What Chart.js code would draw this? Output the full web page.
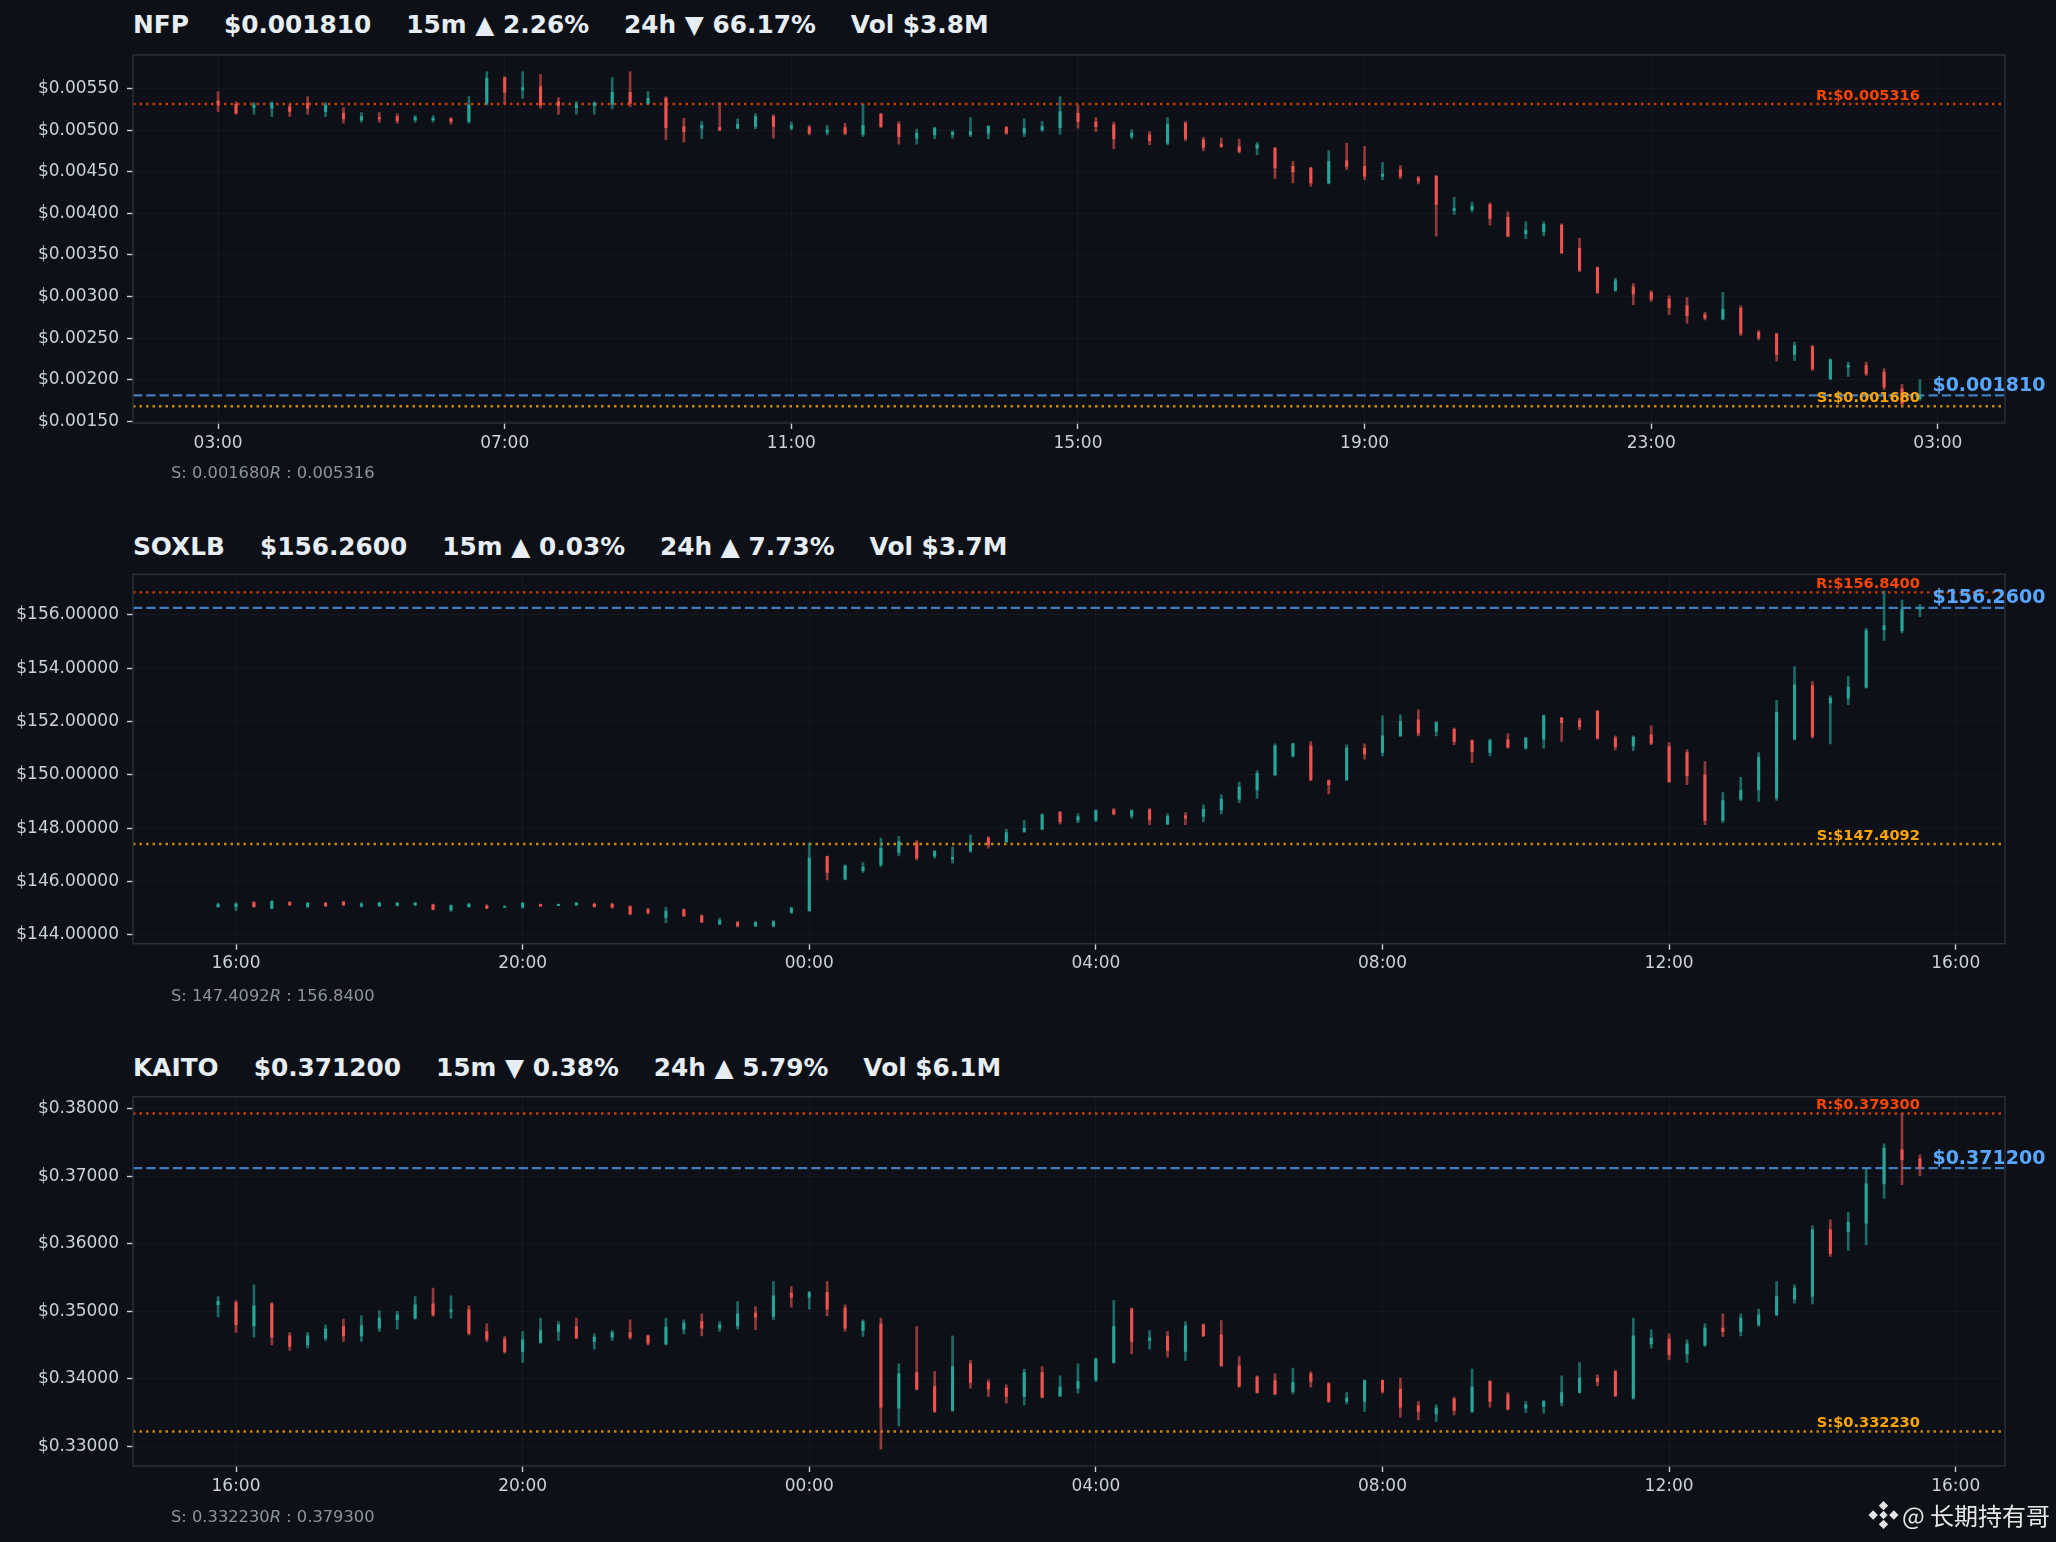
<!DOCTYPE html>
<html>
<head>
<meta charset="utf-8">
<script src="https://cdn.jsdelivr.net/npm/chart.js@4.4.1/dist/chart.umd.min.js"></script>
<style>
html,body{margin:0;padding:0;background:#0d1117;width:2056px;height:1542px;overflow:hidden;}
#wrap{position:relative;width:2056px;height:1542px;background:#0d1117;}
canvas{position:absolute;left:0;}
.hdr{position:absolute;left:133px;color:#e6edf3;font:bold 24.8px "DejaVu Sans";line-height:25px;white-space:pre;display:flex;}
.hdr span{margin-right:35px;}
.foot{position:absolute;left:171px;color:#8b949e;font:16.3px "DejaVu Sans";line-height:16px;white-space:pre;}
.foot i{font-style:oblique;}
.wm{position:absolute;left:1868px;top:1500px;height:30px;display:flex;align-items:center;color:#e6e6e6;}
.wm .t{font:24px "Noto Sans CJK SC";line-height:30px;margin-left:3px;white-space:pre;}
</style>
</head>
<body>
<div id="wrap">
  <div class="hdr" id="hdr0" style="top:12px"></div>
  <canvas id="c0" width="2056" height="520" style="top:0px"></canvas>
  <div class="foot" id="foot0" style="top:465px"></div>

  <div class="hdr" id="hdr1" style="top:534px"></div>
  <canvas id="c1" width="2056" height="522" style="top:520px"></canvas>
  <div class="foot" id="foot1" style="top:988px"></div>

  <div class="hdr" id="hdr2" style="top:1055px"></div>
  <canvas id="c2" width="2056" height="500" style="top:1042px"></canvas>
  <div class="foot" id="foot2" style="top:1509px"></div>

  <div class="wm">
    <svg width="31" height="30" viewBox="0 0 30 28">
      <g fill="#e6e6e6">
        <polygon points="15,0.5 19.5,5 15,9.5 10.5,5"/>
        <polygon points="15,18.5 19.5,23 15,27.5 10.5,23"/>
        <polygon points="5,9.5 9.5,14 5,18.5 0.5,14"/>
        <polygon points="25,9.5 29.5,14 25,18.5 20.5,14"/>
        <polygon points="15,10 19,14 15,18 11,14"/>
      </g>
    </svg>
    <span class="t">@ 长期持有哥</span>
  </div>
</div>
<script>
// ---------------- DATA ----------------
const symbols = ['NFP', 'SOXLB', 'KAITO'];
const lastPrices = [0.001810, 156.2600, 0.371200];
const supports = [0.001680, 147.4092, 0.332230];
const resistances = [0.005316, 156.8400, 0.379300];
const change15m = [2.26, 0.03, -0.38];
const change24h = [-66.17, 7.73, 5.79];
const volumes = ['$3.8M', '$3.7M', '$6.1M'];
const priceDecimals = [6, 4, 6];
const firstCandleTime = ['03:00', '15:45', '15:45'];

const nfpTimeTicks = ['03:00','07:00','11:00','15:00','19:00','23:00','03:00'];
const soxlbTimeTicks = ['16:00','20:00','00:00','04:00','08:00','12:00','16:00'];
const kaitoTimeTicks = ['16:00','20:00','00:00','04:00','08:00','12:00','16:00'];

const nfpPriceTicks = [0.0015,0.0020,0.0025,0.0030,0.0035,0.0040,0.0045,0.0050,0.0055];
const soxlbPriceTicks = [144,146,148,150,152,154,156];
const kaitoPriceTicks = [0.33,0.34,0.35,0.36,0.37,0.38];

const nfpOpen = [0.005352,0.005312,0.005272,0.005264,0.005284,0.005324,0.005225,0.005205,0.005125,0.005153,
0.005165,0.005125,0.005125,0.005137,0.005105,0.005324,0.005632,0.005484,0.005524,0.005344,
0.005272,0.005296,0.005312,0.005456,0.005324,0.005384,0.005045,0.005025,0.005033,0.005025,
0.005045,0.005165,0.005025,0.005033,0.004977,0.005033,0.004953,0.005193,0.005073,0.004905,
0.004945,0.004945,0.004945,0.004965,0.005033,0.004965,0.005005,0.005033,0.005205,0.005097,
0.005065,0.004925,0.004945,0.004845,0.005085,0.004885,0.004833,0.004805,0.004785,0.004785,
0.004566,0.004546,0.004366,0.004634,0.004566,0.004446,0.004526,0.004426,0.004446,0.004035,
0.004047,0.004107,0.003955,0.003755,0.003779,0.003859,0.003580,0.003348,0.003077,0.003117,
0.003049,0.002969,0.002889,0.002781,0.002730,0.002861,0.002570,0.002550,0.002302,0.002398,
0.002011,0.002151,0.002171,0.002091,0.001891,0.001771];
const nfpHigh = [0.005464,0.005344,0.005332,0.005344,0.005312,0.005404,0.005332,0.005272,0.005213,0.005213,
0.005197,0.005177,0.005177,0.005153,0.005404,0.005704,0.005644,0.005704,0.005672,0.005392,
0.005344,0.005344,0.005632,0.005704,0.005464,0.005404,0.005145,0.005105,0.005332,0.005137,
0.005201,0.005185,0.005097,0.005057,0.005057,0.005085,0.005312,0.005205,0.005105,0.005013,
0.005037,0.004993,0.005153,0.005057,0.005045,0.005137,0.005105,0.005404,0.005304,0.005153,
0.005097,0.005005,0.004985,0.005153,0.005105,0.004913,0.004905,0.004893,0.004853,0.004793,
0.004626,0.004554,0.004753,0.004845,0.004805,0.004614,0.004574,0.004446,0.004458,0.004195,
0.004135,0.004127,0.004019,0.003899,0.003899,0.003875,0.003700,0.003356,0.003220,0.003157,
0.003069,0.003009,0.002989,0.002809,0.003049,0.002889,0.002590,0.002558,0.002450,0.002410,
0.002250,0.002211,0.002211,0.002131,0.001943,0.001999];
const nfpLow = [0.005225,0.005193,0.005193,0.005165,0.005165,0.005193,0.005165,0.005085,0.005097,0.005097,
0.005085,0.005097,0.005097,0.005073,0.005085,0.005304,0.005324,0.005384,0.005264,0.005193,
0.005193,0.005193,0.005256,0.005284,0.005312,0.004885,0.004857,0.004897,0.004993,0.005017,
0.005017,0.004905,0.005005,0.004945,0.004945,0.004945,0.004925,0.005033,0.004833,0.004833,
0.004897,0.004905,0.004925,0.004897,0.004953,0.004925,0.004985,0.004953,0.005025,0.004985,
0.004777,0.004897,0.004825,0.004825,0.004873,0.004753,0.004793,0.004726,0.004706,0.004418,
0.004366,0.004326,0.004354,0.004526,0.004406,0.004406,0.004418,0.004354,0.003728,0.003987,
0.004019,0.003859,0.003716,0.003696,0.003728,0.003516,0.003300,0.003037,0.003061,0.002901,
0.002941,0.002781,0.002678,0.002718,0.002718,0.002530,0.002478,0.002223,0.002230,0.002111,
0.001999,0.002039,0.002051,0.001879,0.001700,0.001751];
const nfpClose = [0.005304,0.005205,0.005304,0.005324,0.005225,0.005264,0.005304,0.005137,0.005165,0.005137,
0.005113,0.005153,0.005145,0.005105,0.005304,0.005624,0.005456,0.005512,0.005304,0.005296,
0.005304,0.005324,0.005456,0.005324,0.005384,0.005033,0.004985,0.005057,0.005005,0.005073,
0.005165,0.005045,0.005057,0.004965,0.005005,0.004965,0.005057,0.005045,0.004925,0.004965,
0.005025,0.004977,0.004985,0.005045,0.004965,0.005025,0.005045,0.005225,0.005105,0.005045,
0.004897,0.004965,0.004873,0.005073,0.004897,0.004793,0.004805,0.004745,0.004825,0.004546,
0.004498,0.004366,0.004626,0.004566,0.004446,0.004474,0.004446,0.004386,0.004107,0.004059,
0.004087,0.003939,0.003728,0.003795,0.003867,0.003528,0.003316,0.003049,0.003189,0.003029,
0.002969,0.002869,0.002769,0.002742,0.002849,0.002558,0.002502,0.002302,0.002410,0.002131,
0.002239,0.002171,0.002071,0.001911,0.001712,0.001810];

const soxlbOpen = [145.06,145.06,145.21,145.00,145.21,145.06,145.19,145.23,145.09,145.10,
145.11,145.13,145.13,144.94,145.06,145.09,145.04,145.04,145.14,145.11,
145.13,145.15,145.15,145.06,144.94,144.66,144.94,144.71,144.41,144.46,
144.34,144.34,144.84,144.91,146.94,146.09,146.41,146.63,147.09,147.46,
146.96,146.84,147.16,147.63,147.50,147.88,147.96,148.59,148.29,148.31,
148.69,148.46,148.69,148.16,148.46,148.44,148.69,149.09,149.44,150.00,
150.71,151.09,149.79,149.81,151.00,150.84,151.46,152.06,151.63,151.71,
151.29,150.84,151.31,151.00,151.34,152.13,152.04,152.38,151.38,151.09,
151.50,151.06,150.84,150.00,148.29,149.09,149.44,149.13,151.34,153.34,
152.69,152.88,153.29,155.44,155.40,156.21];
const soxlbHigh = [145.19,145.21,145.25,145.29,145.25,145.21,145.21,145.25,145.21,145.23,
145.21,145.21,145.16,145.13,145.19,145.13,145.07,145.21,145.16,145.16,
145.21,145.19,145.19,145.09,145.00,145.03,144.98,144.75,144.63,144.50,
144.50,144.54,145.04,147.44,146.96,146.63,146.71,147.63,147.69,147.54,
147.16,147.29,147.75,147.69,147.96,148.29,148.54,148.63,148.54,148.69,
148.74,148.69,148.74,148.54,148.59,148.88,149.25,149.73,150.15,151.16,
151.19,151.25,149.81,151.13,151.16,152.21,152.25,152.44,152.00,151.75,
151.31,151.34,151.54,151.41,152.25,152.16,152.13,152.41,151.46,151.46,
151.84,151.21,150.94,150.50,149.34,149.91,150.84,152.79,154.06,153.50,
152.96,153.69,155.49,156.89,156.55,156.38];
const soxlbLow = [145.04,144.91,145.04,144.97,145.10,145.03,145.06,145.09,145.04,145.06,
145.09,145.09,144.94,144.88,145.04,144.98,145.03,145.00,145.06,145.10,
145.09,145.04,145.00,144.75,144.79,144.46,144.69,144.46,144.38,144.30,
144.31,144.30,144.81,144.88,146.06,146.06,146.34,146.56,146.96,146.81,
146.88,146.69,147.09,147.25,147.46,147.84,147.94,148.16,148.21,148.25,
148.50,148.38,148.13,148.13,148.13,148.25,148.54,148.96,149.13,149.96,
150.66,149.79,149.29,149.79,150.59,150.71,151.44,151.46,151.46,151.13,
150.46,150.71,151.00,150.96,151.00,151.25,151.69,151.34,150.94,150.91,
151.13,149.71,149.63,148.13,148.21,149.04,149.00,149.04,151.31,151.38,
151.16,152.63,153.25,155.04,155.32,155.93];
const soxlbClose = [145.14,145.16,145.06,145.25,145.13,145.19,145.10,145.13,145.16,145.19,
145.19,145.19,144.96,145.09,145.15,145.00,145.06,145.19,145.09,145.14,
145.19,145.06,145.04,144.79,144.84,144.88,144.71,144.49,144.54,144.34,
144.46,144.49,145.00,146.88,146.34,146.59,146.54,147.25,147.50,146.88,
147.13,146.91,147.44,147.38,147.84,148.00,148.50,148.25,148.44,148.66,
148.54,148.66,148.31,148.44,148.38,148.71,149.09,149.54,150.06,151.09,
151.16,149.81,149.63,151.00,150.79,151.46,152.00,151.56,151.96,151.25,
150.88,151.29,151.04,151.38,152.21,151.96,151.81,151.38,151.06,151.41,
151.19,149.75,149.96,148.29,149.04,149.41,150.66,152.34,153.38,151.44,
152.88,153.29,155.41,155.59,156.20,156.26];

const kaitoOpen = [0.3510,0.35132,0.34787,0.35112,0.34639,0.34505,0.34604,0.34777,0.34639,0.34752,
0.34876,0.34900,0.35113,0.34999,0.35024,0.34703,0.34589,0.34407,0.34540,0.34703,
0.34777,0.34555,0.34619,0.34688,0.34639,0.34520,0.34737,0.34850,0.34752,0.34787,
0.34974,0.34925,0.35271,0.35211,0.35280,0.35048,0.34718,0.34816,0.33568,0.34096,
0.33888,0.33533,0.34224,0.33948,0.33864,0.33740,0.34096,0.33750,0.33864,0.33987,
0.34244,0.35034,0.34570,0.34629,0.34407,0.34801,0.34653,0.34195,0.34027,0.33977,
0.33814,0.34076,0.33928,0.33666,0.33666,0.33977,0.33849,0.33602,0.33484,0.33701,
0.33518,0.33963,0.33765,0.33568,0.33592,0.33651,0.33800,0.34012,0.34111,0.33716,
0.34520,0.34589,0.34372,0.34505,0.34752,0.34703,0.34802,0.34950,0.35182,0.35221,
0.36208,0.36184,0.36307,0.36889,0.37393,0.37262];
const kaitoHigh = [0.3522,0.35162,0.35394,0.35132,0.34688,0.34688,0.34802,0.34886,0.34935,0.35014,
0.35000,0.35221,0.35345,0.35231,0.35083,0.34816,0.34629,0.34703,0.34900,0.34850,
0.34900,0.34669,0.34718,0.34876,0.34653,0.34900,0.34876,0.34964,0.34850,0.35147,
0.35073,0.35443,0.35369,0.35295,0.35443,0.35098,0.34876,0.34900,0.34224,0.34777,
0.34111,0.34639,0.34274,0.33987,0.33913,0.34145,0.34185,0.34047,0.34224,0.34308,
0.35162,0.35048,0.34718,0.34703,0.34851,0.34816,0.34866,0.34333,0.34047,0.34076,
0.34160,0.34111,0.33948,0.33800,0.33987,0.33987,0.34012,0.33666,0.33617,0.33730,
0.34145,0.33977,0.33800,0.33666,0.33681,0.34047,0.34244,0.34061,0.34126,0.34900,
0.34728,0.34668,0.34579,0.34816,0.34964,0.34964,0.35034,0.35443,0.35394,0.36267,
0.36356,0.36465,0.37121,0.37482,0.37930,0.37319];
const kaitoLow = [0.3492,0.34688,0.34619,0.34505,0.34421,0.34456,0.34570,0.34555,0.34555,0.34703,
0.34737,0.34886,0.34925,0.34900,0.34653,0.34555,0.34382,0.34244,0.34530,0.34570,
0.34604,0.34441,0.34570,0.34589,0.34505,0.34505,0.34668,0.34639,0.34703,0.34737,
0.34728,0.34876,0.35063,0.35034,0.34935,0.34703,0.34629,0.32960,0.33306,0.33839,
0.33503,0.33518,0.33864,0.33740,0.33642,0.33617,0.33720,0.33740,0.33790,0.33963,
0.34234,0.34372,0.34441,0.34323,0.34274,0.34629,0.34185,0.33879,0.33790,0.33765,
0.33780,0.33879,0.33651,0.33632,0.33518,0.33790,0.33434,0.33395,0.33370,0.33469,
0.33503,0.33582,0.33543,0.33503,0.33494,0.33602,0.33790,0.33898,0.33740,0.33701,
0.34456,0.34283,0.34244,0.34481,0.34629,0.34639,0.34777,0.34935,0.35122,0.35112,
0.35813,0.35902,0.35985,0.36677,0.36875,0.37008];
const kaitoClose = [0.3515,0.34802,0.35083,0.34619,0.34481,0.34639,0.34737,0.34639,0.34787,0.34900,
0.34950,0.35098,0.34950,0.35024,0.34678,0.34589,0.34407,0.34580,0.34718,0.34802,
0.34604,0.34619,0.34688,0.34619,0.34530,0.34767,0.34826,0.34752,0.34802,0.34964,
0.34915,0.35231,0.35211,0.35280,0.35034,0.34752,0.34850,0.33582,0.34076,0.33849,
0.33518,0.34185,0.33948,0.33849,0.33740,0.34096,0.33730,0.33879,0.33963,0.34293,
0.34777,0.34555,0.34604,0.34421,0.34787,0.34639,0.34195,0.33888,0.33800,0.33780,
0.33948,0.33963,0.33666,0.33716,0.33977,0.33814,0.33582,0.33518,0.33568,0.33533,
0.33879,0.33666,0.33553,0.33617,0.33666,0.33800,0.34012,0.33963,0.33750,0.34639,
0.34604,0.34357,0.34520,0.34752,0.34703,0.34900,0.34950,0.35221,0.35345,0.36208,
0.35853,0.36317,0.36889,0.37418,0.37245,0.37120];

// ---------------- LAYOUT (pixels, styles) ----------------
const layout = [
  {canvas:'c0', padTop:55,   xAxisH:97},
  {canvas:'c1', padTop:54.3, xAxisH:98.3},
  {canvas:'c2', padTop:54.7, xAxisH:76}
];
const series = [
  {open:nfpOpen, high:nfpHigh, low:nfpLow, close:nfpClose, timeTicks:nfpTimeTicks, priceTicks:nfpPriceTicks},
  {open:soxlbOpen, high:soxlbHigh, low:soxlbLow, close:soxlbClose, timeTicks:soxlbTimeTicks, priceTicks:soxlbPriceTicks},
  {open:kaitoOpen, high:kaitoHigh, low:kaitoLow, close:kaitoClose, timeTicks:kaitoTimeTicks, priceTicks:kaitoPriceTicks}
];

const UP = '#26a69a', DOWN = '#ef5350';
const UP_W = 'rgba(38,166,154,0.6)', DOWN_W = 'rgba(239,83,80,0.6)';
const TICK_COL = '#c9d1d9';
const GRID_COL = 'rgba(255,255,255,0.035)';
const FONT = '"DejaVu Sans"';

function toMin(s){ const [h,m] = s.split(':').map(Number); return h*60+m; }
function tickIndices(start, labels){
  const s = toMin(start); let prev = -Infinity;
  return labels.map(l => { let d = toMin(l) - s; while (d/15 <= prev) d += 1440; prev = d/15; return d/15; });
}
function pct(v){ return (v >= 0 ? '▲ ' : '▼ ') + Math.abs(v).toFixed(2) + '%'; }

function build(k){
  const d = series[k], L = layout[k];
  const n = d.open.length;
  const dec = priceDecimals[k];
  const fmt = v => v.toFixed(dec);
  const S = supports[k], R = resistances[k], P = lastPrices[k];

  // header & footnote (real text)
  const hdr = document.getElementById('hdr'+k);
  [symbols[k], '$'+fmt(P), '15m '+pct(change15m[k]), '24h '+pct(change24h[k]), 'Vol '+volumes[k]].forEach(t => {
    const sp = document.createElement('span'); sp.textContent = t; hdr.appendChild(sp);
  });
  const foot = document.getElementById('foot'+k);
  foot.innerHTML = 'S: ' + fmt(S) + '<i>R</i> : ' + fmt(R);

  const wick = [], body = [], wc = [], bc = [];
  for (let i = 0; i < n; i++){
    const up = d.close[i] >= d.open[i];
    wick.push({x:i, y:[d.low[i], d.high[i]]});
    body.push({x:i, y:[d.open[i], d.close[i]]});
    wc.push(up ? UP_W : DOWN_W);
    bc.push(up ? UP : DOWN);
  }
  const lo = Math.min(...d.low, S), hi = Math.max(...d.high, R), pad = (hi-lo)*0.05;
  const span = n-1;
  const tIdx = tickIndices(firstCandleTime[k], d.timeTicks);

  const overlay = {
    id:'overlay'+k,
    beforeDatasetsDraw(chart){
      const {ctx, chartArea:a, scales:{y}} = chart;
      ctx.save();
      const hline = (val, col, dash, w) => {
        const yy = y.getPixelForValue(val);
        ctx.beginPath(); ctx.setLineDash(dash); ctx.strokeStyle = col; ctx.lineWidth = w;
        ctx.moveTo(a.left, yy); ctx.lineTo(a.right, yy); ctx.stroke();
      };
      hline(R, 'rgba(255,69,0,0.78)', [2.5,4], 2.4);
      hline(S, 'rgba(255,165,0,0.78)', [2.5,4], 2.4);
      hline(P, 'rgba(88,166,255,0.72)', [9.3,4], 2.2);
      ctx.restore();
    },
    afterDatasetsDraw(chart){
      const {ctx, chartArea:a, scales:{x, y}} = chart;
      ctx.save();
      const lastX = x.getPixelForValue(n-1);
      ctx.font = 'bold 14.6px ' + FONT; ctx.textAlign = 'right'; ctx.textBaseline = 'alphabetic';
      ctx.fillStyle = '#ff4500'; ctx.fillText('R:$' + fmt(R), lastX, y.getPixelForValue(R) - 4);
      ctx.fillStyle = '#ffa500'; ctx.fillText('S:$' + fmt(S), lastX, y.getPixelForValue(S) - 4);
      ctx.font = 'bold 19px ' + FONT; ctx.textAlign = 'left';
      ctx.fillStyle = '#58a6ff'; ctx.fillText('$' + fmt(P), lastX + 12.5, y.getPixelForValue(P) - 4.5);
      ctx.setLineDash([]); ctx.strokeStyle = '#2a2f38'; ctx.lineWidth = 1.5;
      ctx.strokeRect(a.left, a.top, a.right - a.left, a.bottom - a.top);
      ctx.restore();
    }
  };

  new Chart(document.getElementById(L.canvas), {
    type:'bar',
    data:{datasets:[
      {data:wick, backgroundColor:wc, barThickness:2, borderWidth:0, grouped:false},
      {data:body, backgroundColor:bc, barThickness:2.4, borderWidth:0, minBarLength:1, grouped:false}
    ]},
    options:{
      responsive:false, animation:false, devicePixelRatio:1,
      layout:{padding:{top:L.padTop, right:51, bottom:0, left:0}},
      plugins:{legend:{display:false}, tooltip:{enabled:false}},
      scales:{
        x:{
          type:'linear', min:-span*0.05, max:span*1.05, offset:false,
          grid:{offset:false, color:GRID_COL, tickColor:TICK_COL, tickLength:6, tickWidth:1.4, drawTicks:true},
          border:{display:false},
          ticks:{color:TICK_COL, font:{family:FONT, size:17}, padding:4, maxRotation:0, autoSkip:false,
                 callback:(v, i) => d.timeTicks[i]},
          afterBuildTicks:s => { s.ticks = tIdx.map(v => ({value:v})); },
          afterFit:s => { s.height = L.xAxisH; }
        },
        y:{
          min:lo-pad, max:hi+pad,
          grid:{color:GRID_COL, tickColor:TICK_COL, tickLength:6, tickWidth:1.4},
          border:{display:false},
          ticks:{color:TICK_COL, font:{family:FONT, size:17}, padding:8, callback:v => '$' + Number(v).toFixed(5)},
          afterBuildTicks:s => { s.ticks = d.priceTicks.map(v => ({value:v})); },
          afterFit:s => { s.width = 133; }
        }
      }
    },
    plugins:[overlay]
  });
}
[0,1,2].forEach(build);
</script>
</body>
</html>
